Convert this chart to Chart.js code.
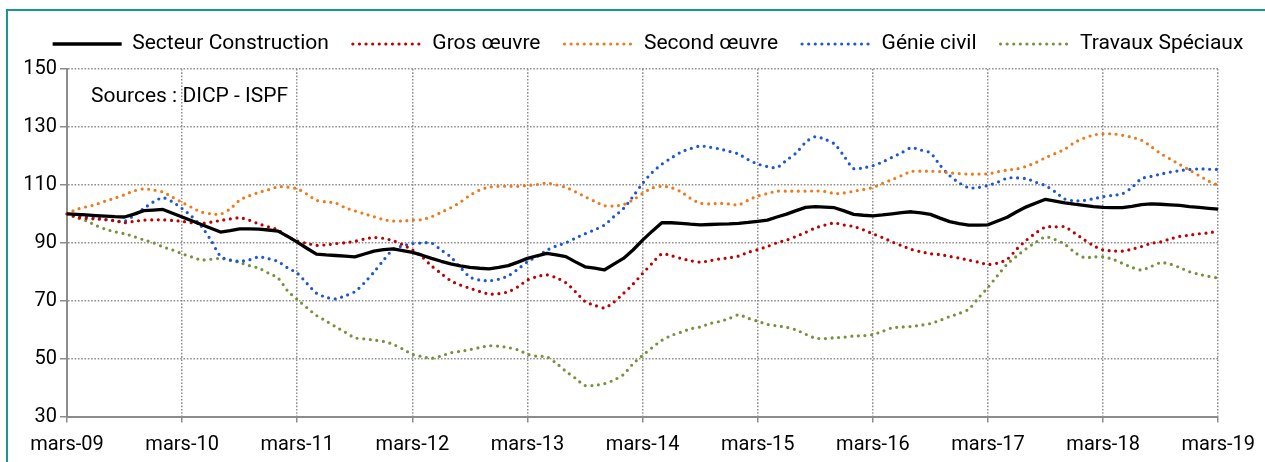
<!DOCTYPE html>
<html lang="fr">
<head>
<meta charset="utf-8">
<title>Indices construction</title>
<script src="https://cdn.jsdelivr.net/npm/chart.js@4.4.1/dist/chart.umd.min.js"></script>
<style>
  html, body { margin: 0; padding: 0; background: #fff; overflow: hidden; }
  #frame { position: absolute; left: 6px; top: 9px; width: 1400px; height: 600px; border: 2px solid #16998a; box-sizing: border-box; }
  #wrap { position: absolute; left: 0; top: 0; width: 1265px; height: 462px; }
</style>
</head>
<body>
<div id="frame"></div>
<div id="wrap"><canvas id="chart" width="1265" height="462"></canvas></div>
<script>
// Indices mensuels base 100 = mars 2009, de mars-09 a mars-19 (121 mois)
const MOIS = ["mars", "avr", "mai", "juin", "juil", "août", "sept", "oct", "nov", "déc", "janv", "févr"];
const N_MONTHS = 121;
const SOURCE_TEXT = "Sources : DICP - ISPF";

const SECTEUR = [
  100, 99.8, 99.6, 99.4, 99.2, 99.0, 98.9, 99.9, 101.1, 101.3, 101.5, 100.2,
  98.9, 97.6, 96.3, 95.0, 93.7, 94.2, 94.8, 94.8, 94.7, 94.4, 94.0, 92.2,
  90.2, 88.1, 86.1, 85.8, 85.6, 85.4, 85.1, 86.1, 87.1, 87.6, 87.9, 87.3,
  86.7, 85.7, 84.6, 83.6, 82.7, 82.0, 81.5, 81.2, 81.0, 81.5, 82.1, 83.3,
  84.6, 85.5, 86.3, 85.8, 85.2, 83.4, 81.7, 81.2, 80.6, 82.6, 84.6, 87.5,
  90.9, 94.0, 96.9, 96.9, 96.7, 96.4, 96.2, 96.3, 96.4, 96.5, 96.7, 97.0,
  97.4, 97.8, 98.9, 99.9, 101.1, 102.2, 102.5, 102.3, 102.1, 101.0, 99.8, 99.5,
  99.3, 99.6, 100.0, 100.4, 100.7, 100.3, 99.8, 98.5, 97.3, 96.6, 96.1, 96.1,
  96.2, 97.5, 98.8, 100.7, 102.4, 103.7, 105.0, 104.4, 103.8, 103.3, 102.9, 102.5,
  102.2, 102.1, 102.1, 102.6, 103.2, 103.4, 103.3, 103.1, 102.9, 102.5, 102.2, 101.9,
  101.6
];

const GROS_OEUVRE = [
  100, 98.9, 98.4, 98.2, 98.0, 97.6, 96.9, 97.4, 97.8, 97.9, 97.9, 97.7,
  97.4, 96.9, 96.7, 97.1, 97.7, 98.2, 98.6, 97.8, 96.5, 95.5, 94.4, 92.1,
  90.6, 89.8, 89.1, 89.3, 89.7, 90.0, 90.5, 91.3, 91.8, 91.5, 90.7, 89.3,
  87.5, 85.2, 82.0, 79.4, 76.9, 75.4, 74.3, 73.2, 72.3, 72.4, 73.1, 74.8,
  77.1, 78.3, 78.9, 77.9, 76.2, 73.1, 69.7, 68.4, 67.5, 69.5, 72.5, 75.7,
  79.4, 82.9, 86.1, 85.5, 84.6, 83.8, 83.3, 83.8, 84.4, 84.8, 85.4, 86.7,
  87.6, 88.7, 90.0, 90.9, 92.2, 93.6, 95.1, 96.1, 96.8, 96.1, 95.6, 94.5,
  93.1, 91.8, 90.3, 89.0, 87.7, 86.9, 86.2, 85.9, 85.3, 84.7, 84.0, 83.3,
  82.5, 83.0, 84.3, 87.8, 90.9, 93.4, 95.4, 95.5, 95.5, 93.4, 91.1, 89.0,
  87.5, 87.2, 87.1, 87.8, 88.7, 89.8, 90.3, 91.3, 92.2, 92.6, 93.1, 93.4,
  94.1
];

const SECOND_OEUVRE = [
  100, 101.5, 102.4, 103.2, 104.4, 105.4, 106.6, 107.9, 108.6, 108.2, 107.5, 105.7,
  103.9, 102.2, 100.6, 100.0, 99.9, 101.7, 104.7, 106.2, 107.4, 108.3, 109.3, 109.2,
  108.6, 106.8, 104.7, 104.1, 103.7, 102.1, 101.0, 100.0, 99.0, 98.0, 97.5, 97.5,
  97.8, 98.0, 99.0, 100.5, 102.1, 104.0, 106.4, 108.2, 109.2, 109.5, 109.5, 109.5,
  109.8, 110.1, 110.6, 110.0, 109.1, 107.6, 105.9, 104.3, 102.8, 102.7, 103.2, 104.8,
  107.0, 108.9, 109.5, 109.0, 107.6, 105.3, 103.7, 103.4, 103.6, 103.4, 103.1, 104.7,
  106.1, 107.0, 107.8, 107.8, 107.8, 107.8, 107.9, 107.7, 107.0, 107.2, 107.8, 108.4,
  109.1, 110.5, 111.8, 113.2, 114.6, 114.7, 114.7, 114.6, 114.1, 113.9, 113.7, 113.7,
  113.8, 114.5, 115.1, 115.5, 116.4, 117.7, 119.4, 120.8, 122.3, 124.6, 126.1, 127.2,
  127.6, 127.6, 127.1, 126.4, 125.4, 123.2, 120.8, 118.9, 117.0, 115.1, 113.2, 111.3,
  109.8
];

const GENIE_CIVIL = [
  100, 99.4, 99.0, 98.7, 98.0, 97.6, 97.4, 99.5, 101.8, 104.1, 105.5, 104.1,
  101.8, 99.1, 95.7, 90.9, 85.4, 84.0, 83.6, 84.1, 85.1, 84.5, 83.5, 81.3,
  79.5, 76.0, 72.6, 71.2, 70.6, 71.7, 73.1, 76.2, 79.9, 84.0, 87.7, 88.9,
  89.7, 89.9, 89.9, 87.5, 85.1, 81.5, 78.2, 77.1, 76.9, 77.4, 78.6, 80.9,
  83.4, 85.3, 87.4, 88.9, 90.0, 91.6, 93.1, 94.5, 96.1, 99.0, 101.8, 106.0,
  110.5, 114.3, 117.1, 119.3, 121.3, 122.5, 123.4, 123.0, 122.4, 121.6, 120.6, 118.7,
  117.2, 116.3, 116.0, 118.5, 121.0, 124.7, 126.6, 125.7, 124.1, 119.9, 115.6, 115.9,
  116.6, 117.9, 119.5, 121.1, 122.8, 122.0, 121.0, 116.8, 113.2, 110.7, 109.0, 109.1,
  109.8, 110.9, 112.3, 112.4, 112.1, 110.9, 109.7, 107.6, 105.1, 104.5, 104.6, 105.2,
  105.9, 106.4, 106.9, 109.1, 112.1, 112.9, 113.7, 114.4, 114.9, 115.3, 115.5, 115.4,
  115.3
];

const TRAVAUX_SPECIAUX = [
  100, 98.6, 97.6, 96.0, 94.7, 93.8, 93.1, 92.1, 91.0, 90.0, 88.6, 87.5,
  86.2, 85.1, 84.1, 84.3, 84.6, 84.0, 83.2, 82.1, 81.2, 79.5, 77.8, 73.4,
  70.4, 67.6, 64.9, 63.0, 61.0, 59.1, 57.2, 56.8, 56.4, 55.9, 54.9, 53.3,
  51.5, 50.7, 50.1, 50.9, 52.0, 52.5, 53.1, 53.8, 54.4, 54.3, 53.8, 53.0,
  51.5, 50.8, 50.6, 48.4, 45.6, 43.2, 40.7, 40.8, 41.3, 42.6, 44.5, 48.2,
  51.1, 53.8, 56.3, 58.0, 59.1, 60.3, 60.9, 62.1, 62.8, 63.8, 65.1, 63.9,
  62.9, 61.8, 61.3, 60.8, 59.9, 58.4, 57.1, 56.9, 57.2, 57.4, 57.8, 57.9,
  58.3, 59.4, 60.6, 60.9, 61.1, 61.5, 62.1, 63.2, 64.5, 65.6, 67.1, 70.9,
  74.6, 78.7, 82.6, 85.4, 88.0, 90.2, 92.0, 91.1, 89.5, 86.8, 84.9, 85.1,
  85.1, 84.3, 82.9, 81.5, 80.6, 81.8, 83.1, 82.6, 81.4, 80.0, 79.1, 78.4,
  77.8
];

// mois -> "mars-09", "avr-09", ... ; l'annee change en janvier
const LABELS = [];
for (let m = 0; m < N_MONTHS; m++) {
  const yy = String(9 + Math.floor((m + 2) / 12)).padStart(2, "0");
  LABELS.push(MOIS[m % 12] + "-" + yy);
}

const FONT = "Roboto, 'Open Sans', sans-serif";
const GRID = "#8f8f8f";
const AXIS = "#8c8c8c";
const GRID_DASH = [1.6, 1.7];
const DOTS = [0, 6.6];
const SAMPLE_W = 70;

// traits des legendes dessines a la main (pointilles comme les series)
const sampleLegend = {
  id: "sampleLegend",
  afterDraw(chart) {
    const ctx = chart.ctx;
    (chart.legend.legendHitBoxes || []).forEach((hb, i) => {
      const ds = chart.data.datasets[i];
      const y = hb.top + hb.height / 2;
      ctx.save();
      ctx.strokeStyle = ds.borderColor;
      ctx.lineWidth = ds.borderWidth;
      ctx.lineCap = ds.borderCapStyle || "butt";
      ctx.setLineDash(ds.borderDash || []);
      ctx.beginPath();
      ctx.moveTo(hb.left + 1, y);
      ctx.lineTo(hb.left + SAMPLE_W, y);
      ctx.stroke();
      ctx.restore();
    });
  },
};

const sourceNote = {
  id: "sourceNote",
  afterDraw(chart) {
    const { ctx, chartArea } = chart;
    ctx.save();
    ctx.font = "21px " + FONT;
    ctx.fillStyle = "#000";
    ctx.textBaseline = "alphabetic";
    ctx.fillText(SOURCE_TEXT, chartArea.left + 24, chartArea.top + 32.5);
    ctx.restore();
  },
};

function dotted(label, data, color) {
  return {
    label, data,
    borderColor: color, backgroundColor: color,
    borderWidth: 3.2, borderDash: DOTS, borderCapStyle: "round",
    pointRadius: 0, tension: 0.3, fill: false,
  };
}

function build() {
  Chart.defaults.font.family = FONT;
  Chart.defaults.font.size = 20;
  Chart.defaults.color = "#000";

  new Chart(document.getElementById("chart"), {
    type: "line",
    data: {
      labels: LABELS,
      datasets: [
        {
          label: "Secteur Construction", data: SECTEUR,
          borderColor: "#000", backgroundColor: "#000",
          borderWidth: 3.3, borderCapStyle: "butt", borderJoinStyle: "round",
          pointRadius: 0, tension: 0, fill: false,
        },
        dotted("Gros œuvre", GROS_OEUVRE, "#c00000"),
        dotted("Second œuvre", SECOND_OEUVRE, "#f07a1a"),
        dotted("Génie civil", GENIE_CIVIL, "#1f56d2"),
        dotted("Travaux Spéciaux", TRAVAUX_SPECIAUX, "#76923c"),
      ],
    },
    options: {
      responsive: false,
      animation: false,
      devicePixelRatio: 1,
      // right padding negative so the legend box is centred like the original
      layout: { padding: { top: 6, left: 25, right: -5, bottom: 0 } },
      plugins: {
        tooltip: { enabled: false },
        legend: {
          position: "top",
          align: "center",
          labels: {
            boxWidth: SAMPLE_W, boxHeight: 30, padding: 23,
            color: "#000", font: { size: 21 },
            generateLabels(chart) {
              const items = Chart.defaults.plugins.legend.labels.generateLabels(chart);
              items.forEach((it) => {
                it.fillStyle = "rgba(0,0,0,0)";
                it.strokeStyle = "rgba(0,0,0,0)";
                it.lineWidth = 0;
              });
              return items;
            },
          },
        },
      },
      scales: {
        x: {
          ticks: {
            autoSkip: false, maxRotation: 0, minRotation: 0, padding: 10,
            color: "#000", font: { size: 20 },
            callback(v, i) { return i % 12 === 0 ? this.getLabelForValue(v) : null; },
          },
          grid: { color: GRID, lineWidth: 1.5, tickLength: 6, tickColor: AXIS, tickWidth: 1.5, tickBorderDash: [] },
          border: { color: AXIS, width: 2, dash: GRID_DASH },
          afterFit(s) { s.height = 45.5; },
        },
        y: {
          min: 30, max: 150,
          ticks: { stepSize: 20, padding: 3, color: "#000", font: { size: 20 } },
          grid: { color: GRID, lineWidth: 1.5, tickLength: 7, tickColor: AXIS, tickWidth: 1.5, tickBorderDash: [] },
          border: { color: AXIS, width: 2, dash: GRID_DASH },
          afterFit(s) { s.width = 42; },
        },
        y2: {
          position: "right",
          grid: { display: false, drawTicks: false },
          border: { display: false },
          ticks: { display: false },
          afterFit(s) { s.width = 50; },
        },
      },
    },
    plugins: [sampleLegend, sourceNote],
  });
}

if (document.fonts && document.fonts.load) {
  Promise.all([document.fonts.load("20px Roboto"), document.fonts.load("21px Roboto")])
    .then(build, build);
} else {
  build();
}
</script>
</body>
</html>
